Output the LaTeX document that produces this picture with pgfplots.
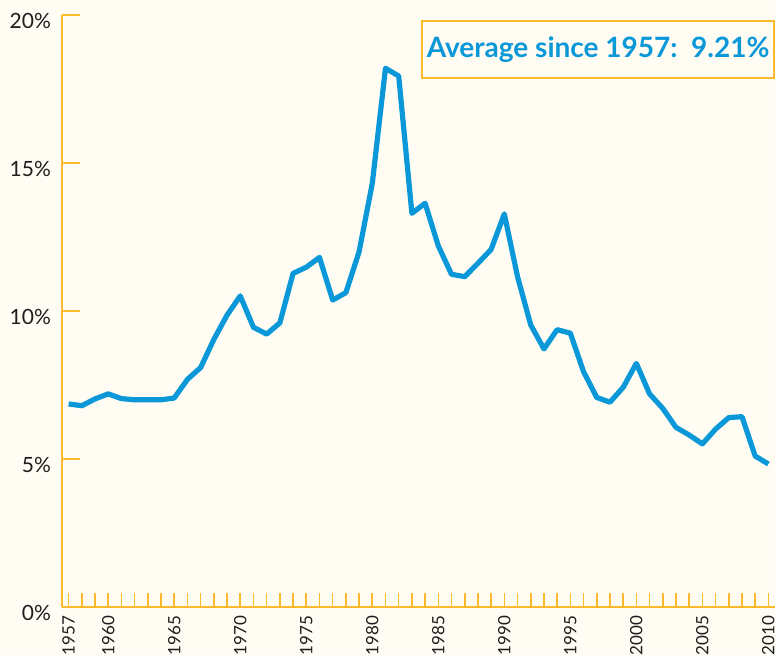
\documentclass[border=0pt]{standalone}
\usepackage{pgfplots}
\pgfplotsset{compat=1.18}
\usepackage{fontspec}
\setmainfont{Lato}
\definecolor{cream}{HTML}{FFFCF4}
\definecolor{axisor}{HTML}{FBBA2C}
\definecolor{lineblue}{HTML}{0A98D8}
\definecolor{txt}{HTML}{1E1E1E}
\begin{document}
\begin{tikzpicture}
\fill[cream] (-31pt,-24pt) rectangle (356.5pt,303.5pt);
\begin{axis}[
  at={(0,0)}, anchor=south west,
  width=356.5pt, height=296pt, scale only axis,
  xmin=1956.5, xmax=2010.5, ymin=0, ymax=20,
  axis lines*=left,
  axis line style={draw=axisor, line width=1pt, -},
  every tick/.style={draw=axisor, line width=0.8pt},
  tick align=inside,
  major tick length=7pt,
  minor tick length=7pt,
  xtick={1957,1960,1965,1970,1975,1980,1985,1990,1995,2000,2005,2010},
  xticklabels={1957,1960,1965,1970,1975,1980,1985,1990,1995,2000,2005,2010},
  minor xtick={1958,1959,1961,1962,1963,1964,1966,1967,1968,1969,1971,1972,1973,1974,1976,1977,1978,1979,1981,1982,1983,1984,1986,1987,1988,1989,1991,1992,1993,1994,1996,1997,1998,1999,2001,2002,2003,2004,2006,2007,2008,2009},
  ytick=\empty,
  extra y ticks={0,5,10,15,20},
  extra y tick labels={0\%,5\%,10\%,15\%,20\%},
  extra y tick style={major tick length=9pt,
    yticklabel style={anchor=east, font=\fontsize{10.5}{12}\selectfont, text=txt, yshift=-3pt, xshift=-2pt}},
  xticklabel style={rotate=90, anchor=east, font=\fontsize{8.5}{10}\selectfont, text=txt, xshift=-1pt},
  clip=false,
]
\addplot[lineblue, line width=2.6pt, line join=round] coordinates {
(1957,6.86) (1958,6.80) (1959,7.03) (1960,7.20) (1961,7.04) (1962,7.00)
(1963,7.00) (1964,7.00) (1965,7.06) (1966,7.69) (1967,8.09) (1968,9.04)
(1969,9.86) (1970,10.51) (1971,9.45) (1972,9.22) (1973,9.60) (1974,11.27)
(1975,11.48) (1976,11.81) (1977,10.37) (1978,10.62) (1979,12.00) (1980,14.31)
(1981,18.20) (1982,17.94) (1983,13.30) (1984,13.64) (1985,12.20) (1986,11.24)
(1987,11.16) (1988,11.61) (1989,12.08) (1990,13.28) (1991,11.16) (1992,9.53)
(1993,8.72) (1994,9.37) (1995,9.25) (1996,7.95) (1997,7.08) (1998,6.92)
(1999,7.42) (2000,8.23) (2001,7.20) (2002,6.71) (2003,6.07) (2004,5.81)
(2005,5.51) (2006,6.01) (2007,6.40) (2008,6.43) (2009,5.10) (2010,4.83)
};
\node[anchor=north east, draw=axisor, line width=0.8pt, fill=cream,
  minimum width=176pt, minimum height=28.5pt, inner sep=0pt,
  text=lineblue, font=\fontsize{14}{16}\selectfont\bfseries]
  at ([yshift=-2.5pt]rel axis cs:1,1) {Average since 1957:\ \ 9.21\%};
\end{axis}
\pgfresetboundingbox
\path[use as bounding box] (-31pt,-24pt) rectangle (356.5pt,303.5pt);
\end{tikzpicture}
\end{document}
